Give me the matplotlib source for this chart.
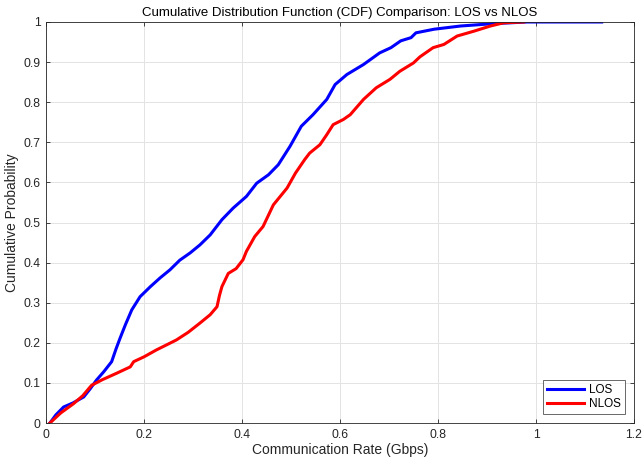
import matplotlib
matplotlib.use("Agg")
import matplotlib.pyplot as plt
import numpy as np

plt.rcParams['font.family'] = ['Liberation Sans', 'DejaVu Sans']

los_x = [0.008, 0.02, 0.036, 0.055, 0.077, 0.09, 0.103, 0.118, 0.134, 0.143, 0.151,
         0.162, 0.175, 0.192, 0.213, 0.233, 0.253, 0.273, 0.294, 0.314,
         0.335, 0.359, 0.382, 0.409, 0.430, 0.454, 0.474, 0.498, 0.521, 0.545, 0.573,
         0.590, 0.614, 0.648, 0.681, 0.704, 0.724, 0.745, 0.755, 0.792, 0.846, 0.914,
         0.981, 1.134]
los_y = [0.0, 0.02, 0.04, 0.05, 0.065, 0.085, 0.107, 0.128, 0.153, 0.185, 0.211,
         0.245, 0.282, 0.315, 0.34, 0.362, 0.382, 0.406, 0.424, 0.444,
         0.469, 0.507, 0.536, 0.565, 0.598, 0.619, 0.644, 0.69, 0.74, 0.769, 0.807,
         0.844, 0.869, 0.894, 0.923, 0.936, 0.953, 0.961, 0.973, 0.982, 0.99, 0.996,
         1.0, 1.0]

nlos_x = [0.008, 0.03, 0.056, 0.075, 0.093, 0.115, 0.144, 0.172, 0.179, 0.2, 0.225,
          0.266, 0.29, 0.314, 0.335, 0.349, 0.354, 0.359,
          0.372, 0.388, 0.402, 0.409, 0.426, 0.443, 0.464, 0.492, 0.509, 0.528, 0.538, 0.559,
          0.573, 0.586, 0.607, 0.621, 0.648, 0.674, 0.702, 0.722, 0.750, 0.763, 0.790,
          0.812, 0.839, 0.873, 0.907, 0.934, 0.975]
nlos_y = [0.0, 0.025, 0.048, 0.068, 0.094, 0.108, 0.124, 0.14, 0.153, 0.165, 0.182,
          0.207, 0.226, 0.249, 0.27, 0.29, 0.318, 0.34,
          0.373, 0.385, 0.407, 0.428, 0.465, 0.49, 0.544, 0.586, 0.623, 0.657, 0.673, 0.694,
          0.719, 0.744, 0.757, 0.769, 0.807, 0.836, 0.857, 0.877, 0.898, 0.913, 0.936,
          0.944, 0.965, 0.977, 0.99, 0.998, 1.0]

xticks = [0, 0.2, 0.4, 0.6, 0.8, 1.0, 1.2]
xtick_labels = ['0', '0.2', '0.4', '0.6', '0.8', '1', '1.2']
yticks = [0, 0.1, 0.2, 0.3, 0.4, 0.5, 0.6, 0.7, 0.8, 0.9, 1.0]
ytick_labels = ['0', '0.1', '0.2', '0.3', '0.4', '0.5', '0.6', '0.7', '0.8', '0.9', '1']

fig = plt.figure(figsize=(6.42, 4.62), dpi=100)
ax = fig.add_axes([46/642, 1-423/462, 588/642, 401/462])

ax.plot(los_x, los_y, color='#0000ff', lw=2.2, label='LOS')
ax.plot(nlos_x, nlos_y, color='#ff0000', lw=2.2, label='NLOS')

ax.set_xlim(0, 1.2)
ax.set_ylim(0, 1)
ax.set_xticks(xticks)
ax.set_xticklabels(xtick_labels)
ax.set_yticks(yticks)
ax.set_yticklabels(ytick_labels)
ax.grid(True, color='#e3e3e3', lw=0.7)
ax.set_axisbelow(True)
for s in ax.spines.values():
    s.set_color('#262626')
    s.set_linewidth(0.6)
ax.tick_params(direction='in', length=3, width=0.6, colors='#262626',
               labelsize=8.7, top=True, right=True, labeltop=False, labelright=False, pad=4)
ax.set_xlabel('Communication Rate (Gbps)', fontsize=10, color='#262626', labelpad=2)
ax.set_ylabel('Cumulative Probability', fontsize=10, color='#262626', labelpad=3)
ax.set_title('Cumulative Distribution Function (CDF) Comparison: LOS vs NLOS',
             fontsize=9.5, color='black', pad=4)
leg = ax.legend(loc='lower right', fontsize=8.5, frameon=True, fancybox=False,
                edgecolor='#262626', handlelength=3.2, borderpad=0.3,
                labelspacing=0.2, handletextpad=0.4, borderaxespad=0.8)
leg.get_frame().set_linewidth(0.6)

fig.savefig('out.png', dpi=100)
